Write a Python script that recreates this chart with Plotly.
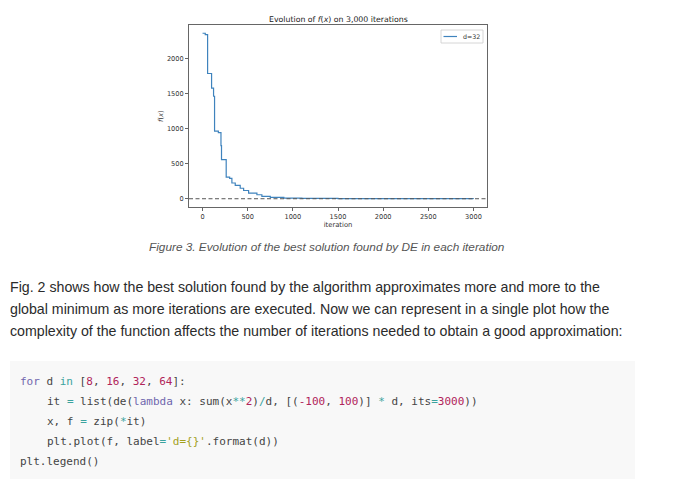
import plotly.graph_objects as go

# best f(x) per iteration (step changes only)
iters = [0, 30, 56, 100, 122, 133, 175, 204, 210, 262, 300, 325, 362, 417, 455, 510, 602, 657, 750, 900, 1100, 1500, 2999]
fx = [2365, 2345, 1790, 1580, 1465, 965, 945, 760, 560, 310, 290, 225, 190, 150, 118, 80, 57, 33, 19, 10, 5, 2, 1]
label = 'd=32'
x_ticks = [0, 500, 1000, 1500, 2000, 2500, 3000]
y_ticks = [0, 500, 1000, 1500, 2000]

caption = 'Figure 3. Evolution of the best solution found by DE in each iteration'
para = [
    'Fig. 2 shows how the best solution found by the algorithm approximates more and more to the',
    'global minimum as more iterations are executed. Now we can represent in a single plot how the',
    'complexity of the function affects the number of iterations needed to obtain a good approximation:',
]

# the page body keeps its default 8px margin, so the figure is 8px smaller
OFF = 8
W, H = 680 - OFF, 489 - OFF


def px(x):
    return (x - OFF) / W


def py(y):
    return 1 - (y - OFF) / H


LINE = '#3f83bd'
KW = '#6f66ad'
OP = '#3ba39e'
NUM = '#b1245a'
STR = '#a3a11e'


def c(txt, col):
    return "<span style='color:%s'>%s</span>" % (col, txt)


code = [
    (0, c('for', KW) + ' d ' + c('in', OP) + ' [' + c('8', NUM) + ', ' + c('16', NUM) + ', '
     + c('32', NUM) + ', ' + c('64', NUM) + ']:'),
    (1, 'it ' + c('=', OP) + ' list(de(' + c('lambda', KW) + ' x: sum(x' + c('**', OP) + c('2', NUM)
     + ')' + c('/', OP) + 'd, [(' + c('-100', NUM) + ', ' + c('100', NUM) + ')] ' + c('*', OP)
     + ' d, its' + c('=', OP) + c('3000', NUM) + '))'),
    (1, 'x, f ' + c('=', OP) + ' zip(' + c('*', OP) + 'it)'),
    (1, 'plt.plot(f, label' + c('=', OP) + c("'d={}'", STR) + '.format(d))'),
    (0, 'plt.legend()'),
]

fig = go.Figure()
fig.add_trace(go.Scatter(x=iters, y=fx, mode='lines', line_shape='hv', name=label,
                         line=dict(color=LINE, width=1.2), showlegend=False))

# dashed line at 0
fig.add_shape(type='line', xref='x domain', yref='y', x0=0, x1=1, y0=0, y1=0,
              line=dict(color='#555555', width=1, dash='4px,2.5px'))

ax = dict(showline=True, mirror=True, linecolor='#666666', linewidth=1, ticks='outside',
          ticklen=3, tickcolor='#666666', showgrid=False, zeroline=False,
          tickfont=dict(family='DejaVu Sans', size=6.6, color='#333333'))

fig.update_layout(
    width=W, height=H, margin=dict(l=0, r=0, t=0, b=0),
    paper_bgcolor='white', plot_bgcolor='white',
    xaxis=dict(ax, domain=[px(189), px(487)], range=[-150, 3150], tickvals=x_ticks,
               title=dict(text='iteration', font=dict(family='DejaVu Sans', size=6.8, color='#333333'), standoff=1)),
    yaxis=dict(ax, domain=[py(207), py(25)], range=[-118, 2483], tickvals=y_ticks),
)

# small matplotlib-style legend box in the upper right corner
fig.add_shape(type='rect', xref='paper', yref='paper', x0=px(441), x1=px(483), y0=py(43), y1=py(30),
              fillcolor='white', line=dict(color='#cccccc', width=0.8))
fig.add_shape(type='line', xref='paper', yref='paper', x0=px(443.5), x1=px(457), y0=py(36.5), y1=py(36.5),
              line=dict(color=LINE, width=1.2))
fig.add_annotation(text=label, xref='paper', yref='paper', x=px(461), y=py(36.5),
                   xanchor='left', yanchor='middle', showarrow=False,
                   font=dict(family='DejaVu Sans', size=6.3, color='#333333'))

fig.add_annotation(text='<i>f</i>(<i>x</i>)', xref='paper', yref='paper', x=px(161), y=py(116),
                   xanchor='center', yanchor='middle', textangle=-90, showarrow=False,
                   font=dict(family='DejaVu Sans', size=6.8, color='#333333'))

fig.add_annotation(text='Evolution of <i>f</i>(<i>x</i>) on 3,000 iterations', xref='paper', yref='paper',
                   x=px(338), y=py(19), xanchor='center', yanchor='middle', showarrow=False,
                   font=dict(family='DejaVu Sans', size=7.8, color='#222222'))

fig.add_annotation(text='<i>%s</i>' % caption, xref='paper', yref='paper', x=px(327), y=py(247),
                   xanchor='center', yanchor='middle', showarrow=False,
                   font=dict(family='Liberation Sans', size=11.8, color='#555555'))

for i, line in enumerate(para):
    fig.add_annotation(text=line, xref='paper', yref='paper', x=px(8), y=py(287 + 22 * i),
                       xanchor='left', yanchor='middle', showarrow=False,
                       font=dict(family='Liberation Sans', size=14.2, color='#2b2b2b'))

# code block
fig.add_shape(type='rect', xref='paper', yref='paper', x0=px(10), x1=px(635), y0=py(479), y1=py(361),
              fillcolor='#f8f8f8', line=dict(width=0), layer='below')
for i, (ind, line) in enumerate(code):
    fig.add_annotation(text=line, xref='paper', yref='paper', x=px(18 + 27 * ind), y=py(381 + 20 * i),
                       xanchor='left', yanchor='middle', showarrow=False,
                       font=dict(family='DejaVu Sans Mono', size=11, color='#444444'))

fig.write_html('out.html')
